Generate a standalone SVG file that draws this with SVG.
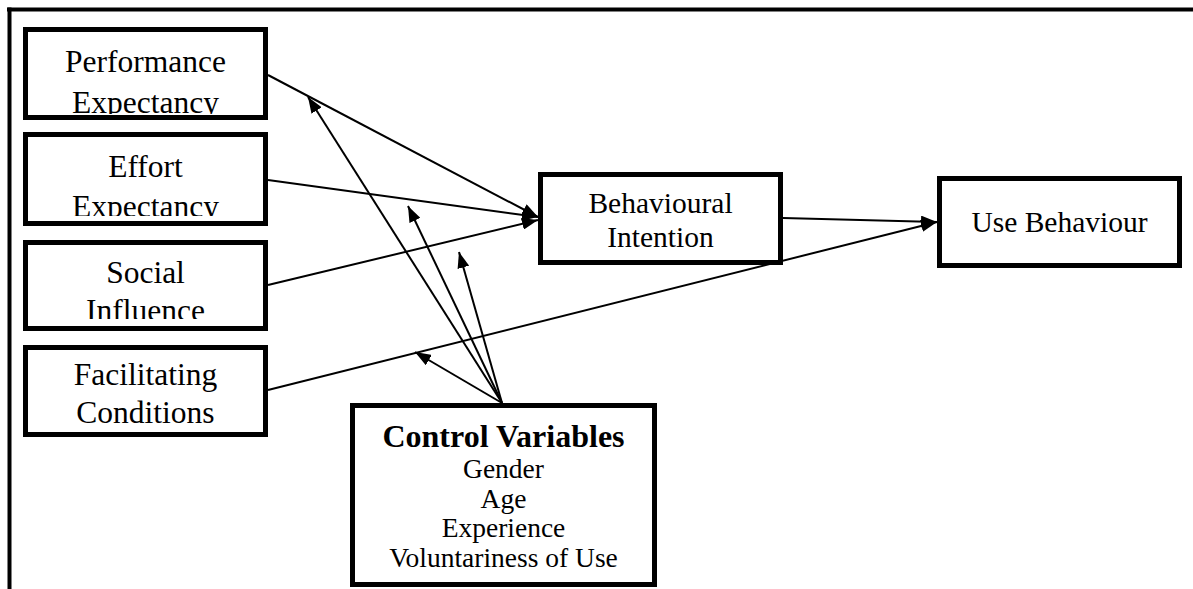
<svg xmlns="http://www.w3.org/2000/svg" width="1193" height="589" viewBox="0 0 1193 589">
  <style>
    .box { fill: #fff; stroke: #000; stroke-width: 5; }
    .frame { stroke: #000; stroke-width: 4; fill: none; }
    .lbl { font-family: 'Liberation Serif', Tinos, 'Times New Roman', Times, 'DejaVu Serif', serif; fill: #000; text-anchor: middle; }
    .l1 { font-size: 31.5px; }
    .l2 { font-size: 29.5px; }
    .l3 { font-size: 27.5px; }
    .hd { font-size: 32px; font-weight: bold; }
    .edge { stroke: #000; stroke-width: 2; fill: none; marker-end: url(#arrow); }
  </style>
  <defs>
    <marker id="arrow" markerUnits="userSpaceOnUse" markerWidth="16" markerHeight="12" refX="16" refY="6" orient="auto">
      <path d="M0,0 L16,6 L0,12 z" fill="#000"/>
    </marker>
    <clipPath id="cPE"><rect x="28" y="32" width="235" height="82"/></clipPath>
    <clipPath id="cEE"><rect x="28" y="137" width="235" height="79"/></clipPath>
    <clipPath id="cSI"><rect x="28" y="245" width="235" height="74"/></clipPath>
    <clipPath id="cFC"><rect x="28" y="350" width="235" height="74"/></clipPath>
  </defs>

  <rect width="1193" height="589" fill="#fff"/>

  <!-- page frame: top and left rules only -->
  <g id="frame">
    <line class="frame" x1="7" y1="9.5" x2="1193" y2="9.5"/>
    <line class="frame" x1="9.5" y1="7.5" x2="9.5" y2="589"/>
  </g>

  <g id="connectors">
    <line class="edge" x1="268" y1="75" x2="538" y2="217"/>
    <line class="edge" x1="268" y1="180" x2="538" y2="217"/>
    <line class="edge" x1="268" y1="285" x2="538" y2="220"/>
    <line class="edge" x1="268" y1="390" x2="937" y2="222"/>
    <line class="edge" x1="783" y1="218" x2="937" y2="222"/>
    <line class="edge" x1="502" y1="403" x2="308" y2="97"/>
    <line class="edge" x1="502" y1="403" x2="408" y2="206"/>
    <line class="edge" x1="502" y1="403" x2="459" y2="252"/>
    <line class="edge" x1="502" y1="403" x2="415" y2="352"/>
  </g>

  <g id="performance-expectancy">
    <rect class="box" x="25.5" y="29.5" width="240" height="88"/>
    <g clip-path="url(#cPE)">
      <text class="lbl l1" x="145.5" y="72">Performance</text>
      <text class="lbl l1" x="145.5" y="113">Expectancy</text>
    </g>
  </g>

  <g id="effort-expectancy">
    <rect class="box" x="25.5" y="134.5" width="240" height="89"/>
    <g clip-path="url(#cEE)">
      <text class="lbl l1" x="145.5" y="177">Effort</text>
      <text class="lbl l1" x="145.5" y="217">Expectancy</text>
    </g>
  </g>

  <g id="social-influence">
    <rect class="box" x="25.5" y="242.5" width="240" height="86"/>
    <g clip-path="url(#cSI)">
      <text class="lbl l1" x="145.5" y="283">Social</text>
      <text class="lbl l1" x="145.5" y="321">Influence</text>
    </g>
  </g>

  <g id="facilitating-conditions">
    <rect class="box" x="25.5" y="347.5" width="240" height="87"/>
    <g clip-path="url(#cFC)">
      <text class="lbl l1" x="145.5" y="385">Facilitating</text>
      <text class="lbl l1" x="145.5" y="423">Conditions</text>
    </g>
  </g>

  <g id="behavioural-intention">
    <rect class="box" x="540.5" y="174.5" width="240" height="88"/>
    <text class="lbl l2" x="660.5" y="213">Behavioural</text>
    <text class="lbl l2" x="660.5" y="247">Intention</text>
  </g>

  <g id="use-behaviour">
    <rect class="box" x="939.5" y="178.5" width="240" height="87"/>
    <text class="lbl l2" x="1059.5" y="232">Use Behaviour</text>
  </g>

  <g id="control-variables">
    <rect class="box" x="352.5" y="405.5" width="302" height="179"/>
    <text class="lbl hd" x="503.5" y="447">Control Variables</text>
    <text class="lbl l3" x="503.5" y="478">Gender</text>
    <text class="lbl l3" x="503.5" y="508">Age</text>
    <text class="lbl l3" x="503.5" y="537">Experience</text>
    <text class="lbl l3" x="503.5" y="567">Voluntariness of Use</text>
  </g>
</svg>
